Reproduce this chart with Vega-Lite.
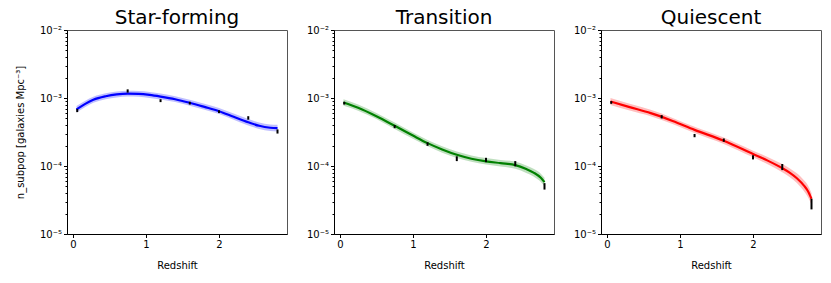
{
  "$schema": "https://vega.github.io/schema/vega-lite/v6.json",
  "background": "white",
  "padding": {"left": 14, "top": 7, "right": 0, "bottom": 0},
  "spacing": 17,
  "config": {
    "font": "DejaVu Sans",
    "view": {"stroke": "#555", "strokeWidth": 1},
    "axis": {"grid": false, "domainColor": "black", "tickColor": "black", "labelColor": "black", "titleColor": "black", "labelFontSize": 10, "titleFontSize": 10, "titleFontWeight": "normal", "tickSize": 3.5},
    "axisX": {"titlePadding": 11},
    "title": {"fontSize": 20, "fontWeight": "normal", "color": "black", "offset": -3}
  },
  "datasets": {
    "curve": [
      {"panel": "SF", "z": 0.05, "n": 6.8e-4, "lo": 6.1e-4, "hi": 7.6e-4},
      {"panel": "SF", "z": 0.17, "n": 8.2e-4, "lo": 7.4e-4, "hi": 9.1e-4},
      {"panel": "SF", "z": 0.28, "n": 9.4e-4, "lo": 8.5e-4, "hi": 1.04e-3},
      {"panel": "SF", "z": 0.45, "n": 1.06e-3, "lo": 9.6e-4, "hi": 1.17e-3},
      {"panel": "SF", "z": 0.6, "n": 1.13e-3, "lo": 1.02e-3, "hi": 1.25e-3},
      {"panel": "SF", "z": 0.75, "n": 1.16e-3, "lo": 1.05e-3, "hi": 1.28e-3},
      {"panel": "SF", "z": 0.9, "n": 1.15e-3, "lo": 1.04e-3, "hi": 1.27e-3},
      {"panel": "SF", "z": 1.05, "n": 1.11e-3, "lo": 1.0e-3, "hi": 1.23e-3},
      {"panel": "SF", "z": 1.2, "n": 1.05e-3, "lo": 9.5e-4, "hi": 1.16e-3},
      {"panel": "SF", "z": 1.4, "n": 9.6e-4, "lo": 8.7e-4, "hi": 1.06e-3},
      {"panel": "SF", "z": 1.6, "n": 8.5e-4, "lo": 7.7e-4, "hi": 9.4e-4},
      {"panel": "SF", "z": 1.8, "n": 7.4e-4, "lo": 6.7e-4, "hi": 8.2e-4},
      {"panel": "SF", "z": 2.0, "n": 6.4e-4, "lo": 5.8e-4, "hi": 7.1e-4},
      {"panel": "SF", "z": 2.2, "n": 5.3e-4, "lo": 4.8e-4, "hi": 5.9e-4},
      {"panel": "SF", "z": 2.4, "n": 4.4e-4, "lo": 3.95e-4, "hi": 4.9e-4},
      {"panel": "SF", "z": 2.55, "n": 3.9e-4, "lo": 3.5e-4, "hi": 4.35e-4},
      {"panel": "SF", "z": 2.7, "n": 3.65e-4, "lo": 3.27e-4, "hi": 4.08e-4},
      {"panel": "SF", "z": 2.8, "n": 3.6e-4, "lo": 3.22e-4, "hi": 4.03e-4},
      {"panel": "TR", "z": 0.05, "n": 8.6e-4, "lo": 7.7e-4, "hi": 9.6e-4},
      {"panel": "TR", "z": 0.25, "n": 7.2e-4, "lo": 6.5e-4, "hi": 8.0e-4},
      {"panel": "TR", "z": 0.5, "n": 5.4e-4, "lo": 4.9e-4, "hi": 6.0e-4},
      {"panel": "TR", "z": 0.75, "n": 3.9e-4, "lo": 3.5e-4, "hi": 4.35e-4},
      {"panel": "TR", "z": 1.0, "n": 2.8e-4, "lo": 2.52e-4, "hi": 3.11e-4},
      {"panel": "TR", "z": 1.2, "n": 2.17e-4, "lo": 1.95e-4, "hi": 2.41e-4},
      {"panel": "TR", "z": 1.4, "n": 1.75e-4, "lo": 1.57e-4, "hi": 1.95e-4},
      {"panel": "TR", "z": 1.6, "n": 1.46e-4, "lo": 1.31e-4, "hi": 1.63e-4},
      {"panel": "TR", "z": 1.8, "n": 1.28e-4, "lo": 1.15e-4, "hi": 1.43e-4},
      {"panel": "TR", "z": 2.0, "n": 1.17e-4, "lo": 1.05e-4, "hi": 1.31e-4},
      {"panel": "TR", "z": 2.2, "n": 1.1e-4, "lo": 9.8e-5, "hi": 1.23e-4},
      {"panel": "TR", "z": 2.4, "n": 1.03e-4, "lo": 9.1e-5, "hi": 1.16e-4},
      {"panel": "TR", "z": 2.55, "n": 9.0e-5, "lo": 7.9e-5, "hi": 1.02e-4},
      {"panel": "TR", "z": 2.65, "n": 8.0e-5, "lo": 7.0e-5, "hi": 9.1e-5},
      {"panel": "TR", "z": 2.75, "n": 6.7e-5, "lo": 5.8e-5, "hi": 7.7e-5},
      {"panel": "TR", "z": 2.8, "n": 5.8e-5, "lo": 5.0e-5, "hi": 6.7e-5},
      {"panel": "QU", "z": 0.05, "n": 8.9e-4, "lo": 7.9e-4, "hi": 1.0e-3},
      {"panel": "QU", "z": 0.3, "n": 7.4e-4, "lo": 6.6e-4, "hi": 8.3e-4},
      {"panel": "QU", "z": 0.6, "n": 6.0e-4, "lo": 5.4e-4, "hi": 6.7e-4},
      {"panel": "QU", "z": 0.9, "n": 4.6e-4, "lo": 4.15e-4, "hi": 5.1e-4},
      {"panel": "QU", "z": 1.2, "n": 3.4e-4, "lo": 3.06e-4, "hi": 3.78e-4},
      {"panel": "QU", "z": 1.6, "n": 2.35e-4, "lo": 2.11e-4, "hi": 2.62e-4},
      {"panel": "QU", "z": 2.0, "n": 1.5e-4, "lo": 1.34e-4, "hi": 1.68e-4},
      {"panel": "QU", "z": 2.2, "n": 1.2e-4, "lo": 1.06e-4, "hi": 1.36e-4},
      {"panel": "QU", "z": 2.4, "n": 9.3e-5, "lo": 8.1e-5, "hi": 1.07e-4},
      {"panel": "QU", "z": 2.5, "n": 8.0e-5, "lo": 6.9e-5, "hi": 9.3e-5},
      {"panel": "QU", "z": 2.6, "n": 6.6e-5, "lo": 5.6e-5, "hi": 7.8e-5},
      {"panel": "QU", "z": 2.7, "n": 5.1e-5, "lo": 4.2e-5, "hi": 6.1e-5},
      {"panel": "QU", "z": 2.75, "n": 4.3e-5, "lo": 3.5e-5, "hi": 5.2e-5},
      {"panel": "QU", "z": 2.8, "n": 3.3e-5, "lo": 2.7e-5, "hi": 4.0e-5}
    ],
    "pts": [
      {"panel": "SF", "z": 0.06, "n": 6.5e-4, "elo": 6.2e-4, "ehi": 6.9e-4},
      {"panel": "SF", "z": 0.75, "n": 1.27e-3, "elo": 1.2e-3, "ehi": 1.34e-3},
      {"panel": "SF", "z": 1.2, "n": 9.1e-4, "elo": 8.7e-4, "ehi": 9.6e-4},
      {"panel": "SF", "z": 1.6, "n": 8.4e-4, "elo": 8.0e-4, "ehi": 8.8e-4},
      {"panel": "SF", "z": 2.0, "n": 6.3e-4, "elo": 6.0e-4, "ehi": 6.6e-4},
      {"panel": "SF", "z": 2.4, "n": 5.1e-4, "elo": 4.8e-4, "ehi": 5.4e-4},
      {"panel": "SF", "z": 2.8, "n": 3.2e-4, "elo": 3.0e-4, "ehi": 3.45e-4},
      {"panel": "TR", "z": 0.06, "n": 8.4e-4, "elo": 8.0e-4, "ehi": 8.8e-4},
      {"panel": "TR", "z": 0.75, "n": 3.8e-4, "elo": 3.6e-4, "ehi": 4.0e-4},
      {"panel": "TR", "z": 1.2, "n": 2.1e-4, "elo": 1.98e-4, "ehi": 2.23e-4},
      {"panel": "TR", "z": 1.6, "n": 1.28e-4, "elo": 1.18e-4, "ehi": 1.39e-4},
      {"panel": "TR", "z": 2.0, "n": 1.23e-4, "elo": 1.14e-4, "ehi": 1.32e-4},
      {"panel": "TR", "z": 2.4, "n": 1.08e-4, "elo": 9.9e-5, "ehi": 1.18e-4},
      {"panel": "TR", "z": 2.8, "n": 5.0e-5, "elo": 4.5e-5, "ehi": 5.6e-5},
      {"panel": "QU", "z": 0.06, "n": 8.6e-4, "elo": 8.2e-4, "ehi": 9.0e-4},
      {"panel": "QU", "z": 0.75, "n": 5.3e-4, "elo": 5.0e-4, "ehi": 5.6e-4},
      {"panel": "QU", "z": 1.2, "n": 2.8e-4, "elo": 2.65e-4, "ehi": 2.96e-4},
      {"panel": "QU", "z": 1.6, "n": 2.4e-4, "elo": 2.27e-4, "ehi": 2.54e-4},
      {"panel": "QU", "z": 2.0, "n": 1.34e-4, "elo": 1.25e-4, "ehi": 1.44e-4},
      {"panel": "QU", "z": 2.4, "n": 9.6e-5, "elo": 8.7e-5, "ehi": 1.07e-4},
      {"panel": "QU", "z": 2.8, "n": 2.7e-5, "elo": 2.3e-5, "ehi": 3.3e-5}
    ]
  },
  "hconcat": [
    {
      "title": "Star-forming",
      "width": 220, "height": 204,
      "layer": [
        {
          "data": {"name": "curve"},
          "transform": [{"filter": "datum.panel == 'SF'"}],
          "mark": {"type": "area", "color": "#0000ff", "opacity": 0.25, "interpolate": "monotone"},
          "encoding": {
            "x": {"field": "z", "type": "quantitative", "scale": {"domain": [-0.08, 2.93], "nice": false, "zero": false}, "axis": {"values": [0, 1, 2], "title": "Redshift", "format": "d", "labelFlush": false}},
            "y": {"field": "lo", "type": "quantitative", "scale": {"type": "log", "domain": [1e-5, 1e-2], "nice": false}, "axis": {"orient": "left", "values": [2e-5,3e-5,4e-5,5e-5,6e-5,7e-5,8e-5,9e-5,2e-4,3e-4,4e-4,5e-4,6e-4,7e-4,8e-4,9e-4,2e-3,3e-3,4e-3,5e-3,6e-3,7e-3,8e-3,9e-3], "labels": false, "tickSize": 2, "domain": false, "title": null}},
            "y2": {"field": "hi"}
          }
        },
        {
          "data": {"name": "curve"},
          "transform": [{"filter": "datum.panel == 'SF'"}],
          "mark": {"type": "line", "color": "#0000ff", "strokeWidth": 2.2, "interpolate": "monotone"},
          "encoding": {
            "x": {"field": "z", "type": "quantitative"},
            "y": {"field": "n", "type": "quantitative", "axis": {"orient": "left", "values": [1e-5, 1e-4, 1e-3, 1e-2], "labelExpr": "datum.value < 3e-5 ? '10⁻⁵' : datum.value < 3e-4 ? '10⁻⁴' : datum.value < 3e-3 ? '10⁻³' : '10⁻²'", "title": "n_subpop [galaxies Mpc⁻³]", "titlePadding": 14}}
          }
        },
        {
          "data": {"name": "pts"},
          "transform": [{"filter": "datum.panel == 'SF'"}],
          "mark": {"type": "rule", "color": "black", "strokeWidth": 2},
          "encoding": {
            "x": {"field": "z", "type": "quantitative"},
            "y": {"field": "elo", "type": "quantitative", "axis": null},
            "y2": {"field": "ehi"}
          }
        }
      ],
      "resolve": {"axis": {"y": "independent"}}
    },
    {
      "title": "Transition",
      "width": 220, "height": 204,
      "layer": [
        {
          "data": {"name": "curve"},
          "transform": [{"filter": "datum.panel == 'TR'"}],
          "mark": {"type": "area", "color": "#008000", "opacity": 0.25, "interpolate": "monotone"},
          "encoding": {
            "x": {"field": "z", "type": "quantitative", "scale": {"domain": [-0.08, 2.93], "nice": false, "zero": false}, "axis": {"values": [0, 1, 2], "title": "Redshift", "format": "d", "labelFlush": false}},
            "y": {"field": "lo", "type": "quantitative", "scale": {"type": "log", "domain": [1e-5, 1e-2], "nice": false}, "axis": {"orient": "left", "values": [2e-5,3e-5,4e-5,5e-5,6e-5,7e-5,8e-5,9e-5,2e-4,3e-4,4e-4,5e-4,6e-4,7e-4,8e-4,9e-4,2e-3,3e-3,4e-3,5e-3,6e-3,7e-3,8e-3,9e-3], "labels": false, "tickSize": 2, "domain": false, "title": null}},
            "y2": {"field": "hi"}
          }
        },
        {
          "data": {"name": "curve"},
          "transform": [{"filter": "datum.panel == 'TR'"}],
          "mark": {"type": "line", "color": "#008000", "strokeWidth": 2.2, "interpolate": "monotone"},
          "encoding": {
            "x": {"field": "z", "type": "quantitative"},
            "y": {"field": "n", "type": "quantitative", "axis": {"orient": "left", "values": [1e-5, 1e-4, 1e-3, 1e-2], "labelExpr": "datum.value < 3e-5 ? '10⁻⁵' : datum.value < 3e-4 ? '10⁻⁴' : datum.value < 3e-3 ? '10⁻³' : '10⁻²'", "title": null}}
          }
        },
        {
          "data": {"name": "pts"},
          "transform": [{"filter": "datum.panel == 'TR'"}],
          "mark": {"type": "rule", "color": "black", "strokeWidth": 2},
          "encoding": {
            "x": {"field": "z", "type": "quantitative"},
            "y": {"field": "elo", "type": "quantitative", "axis": null},
            "y2": {"field": "ehi"}
          }
        }
      ],
      "resolve": {"axis": {"y": "independent"}}
    },
    {
      "title": "Quiescent",
      "width": 220, "height": 204,
      "layer": [
        {
          "data": {"name": "curve"},
          "transform": [{"filter": "datum.panel == 'QU'"}],
          "mark": {"type": "area", "color": "#ff0000", "opacity": 0.25, "interpolate": "monotone"},
          "encoding": {
            "x": {"field": "z", "type": "quantitative", "scale": {"domain": [-0.08, 2.93], "nice": false, "zero": false}, "axis": {"values": [0, 1, 2], "title": "Redshift", "format": "d", "labelFlush": false}},
            "y": {"field": "lo", "type": "quantitative", "scale": {"type": "log", "domain": [1e-5, 1e-2], "nice": false}, "axis": {"orient": "left", "values": [2e-5,3e-5,4e-5,5e-5,6e-5,7e-5,8e-5,9e-5,2e-4,3e-4,4e-4,5e-4,6e-4,7e-4,8e-4,9e-4,2e-3,3e-3,4e-3,5e-3,6e-3,7e-3,8e-3,9e-3], "labels": false, "tickSize": 2, "domain": false, "title": null}},
            "y2": {"field": "hi"}
          }
        },
        {
          "data": {"name": "curve"},
          "transform": [{"filter": "datum.panel == 'QU'"}],
          "mark": {"type": "line", "color": "#ff0000", "strokeWidth": 2.2, "interpolate": "monotone"},
          "encoding": {
            "x": {"field": "z", "type": "quantitative"},
            "y": {"field": "n", "type": "quantitative", "axis": {"orient": "left", "values": [1e-5, 1e-4, 1e-3, 1e-2], "labelExpr": "datum.value < 3e-5 ? '10⁻⁵' : datum.value < 3e-4 ? '10⁻⁴' : datum.value < 3e-3 ? '10⁻³' : '10⁻²'", "title": null}}
          }
        },
        {
          "data": {"name": "pts"},
          "transform": [{"filter": "datum.panel == 'QU'"}],
          "mark": {"type": "rule", "color": "black", "strokeWidth": 2},
          "encoding": {
            "x": {"field": "z", "type": "quantitative"},
            "y": {"field": "elo", "type": "quantitative", "axis": null},
            "y2": {"field": "ehi"}
          }
        }
      ],
      "resolve": {"axis": {"y": "independent"}}
    }
  ]
}
